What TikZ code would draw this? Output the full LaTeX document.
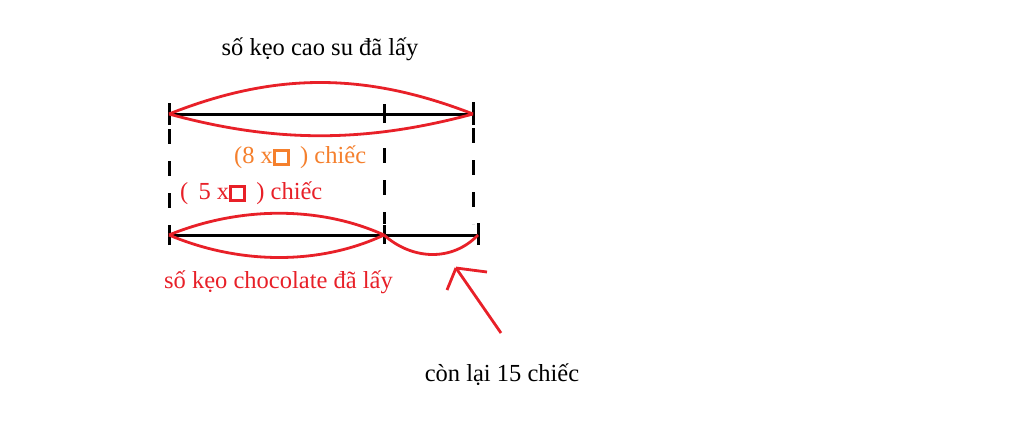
\documentclass[tikz,border=0pt]{standalone}
\usepackage{fontspec}
\setmainfont{Liberation Serif}
\definecolor{pred}{RGB}{232,32,40}
\definecolor{porange}{RGB}{245,128,45}
\newcommand{\sqbox}{{\fboxsep=0pt\fboxrule=3pt\raisebox{0.5pt}{\fbox{\rule{0pt}{11pt}\hspace{11pt}}}}}
\begin{document}
\begin{tikzpicture}[x=1pt,y=-1pt,
  blk/.style={line width=3pt,black},
  rd/.style={line width=2.8pt,pred},
  dsh/.style={line width=3pt,black,dash pattern=on 15pt off 17pt},
  lbl/.style={font=\fontsize{24.5}{28}\selectfont,inner sep=0pt}]
\useasboundingbox[fill=white] (0,0) rectangle (1024,431);
% coordinates
\coordinate (A) at (169,114);
\coordinate (B) at (384,114);
\coordinate (C) at (473,114);
\coordinate (D) at (169,235);
\coordinate (E) at (384,235);
\coordinate (F) at (478,235);
% top line
\draw[blk] (A) -- (C);
\draw[blk] ([yshift=-11pt]A) -- ([yshift=11pt]A);
\draw[blk] ([yshift=-9pt]B) -- ([yshift=10pt]B);
\draw[blk] ([yshift=-11pt]C) -- ([yshift=12pt]C);
% top lens
\draw[rd] (A) .. controls (275,72) and (365,72) .. (C);
\draw[rd] (A) .. controls (275,143) and (365,143) .. (C);
% bottom line
\draw[blk] (D) -- (F);
\draw[blk] ([yshift=-10pt]D) -- ([yshift=10pt]D);
\draw[blk] ([yshift=-9pt]E) -- ([yshift=10pt]E);
\draw[blk] ([yshift=-10pt]F) -- ([yshift=12pt]F);
% bottom lens
\draw[rd] (D) .. controls (240,206) and (320,206) .. (E);
\draw[rd] (D) .. controls (240,265) and (320,265) .. (E);
\draw[rd] (E) .. controls (412,260) and (452,262) .. (F);
% dashed verticals
\draw[dsh] (169,129) -- (169,224);
\draw[dsh] (384,148) -- (384,224);
\draw[dsh] (473,128) -- (473,224);
% labels
\node[lbl] (t1) at (320,49) {số kẹo cao su đã lấy};
\node[lbl,porange,anchor=west] (t2) at (234,157) {(8 x\sqbox\ \,) chiếc};
\node[lbl,pred,anchor=west] (t3) at (180,193) {(\, 5 x\sqbox\ \,) chiếc};
\node[lbl,pred,anchor=west] (t4) at (164,282) {số kẹo chocolate đã lấy};
\node[lbl] (t5) at (502,375) {còn lại 15 chiếc};
% arrow
\coordinate (tip) at (456,268);
\coordinate (tail) at (501,333);
\draw[rd] (tail) -- (tip);
\draw[rd] (tip) -- (447,290);
\draw[rd] (tip) -- (487,272);
\end{tikzpicture}
\end{document}
